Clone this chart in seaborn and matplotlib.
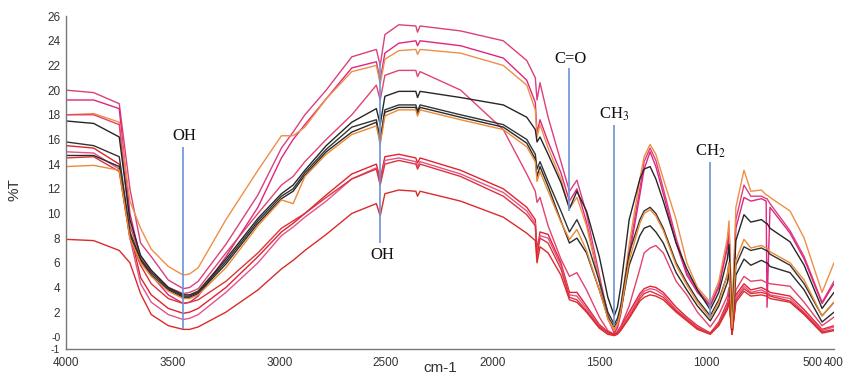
import pandas as pd
import seaborn as sns
import matplotlib.pyplot as plt

wn = [4000, 3870, 3750, 3700, 3650, 3600, 3520, 3450, 3420, 3380, 3250,
      3100, 2990, 2935, 2880, 2780, 2660, 2545, 2527, 2505, 2440,
      2360, 2352, 2340, 2150, 1950, 1840, 1800, 1792, 1778, 1740,
      1680, 1640, 1605, 1560, 1500, 1460, 1430, 1415, 1400, 1360, 1310, 1290,
      1262, 1235, 1200, 1140, 1090, 1040, 980, 940, 900, 892, 878,
      860, 822, 790, 740, 718, 714, 700, 606, 540, 456,
      400]

# %T of each sample
pink1 = [20.0, 19.8, 18.9, 12.0, 7.6, 6.5, 4.6, 3.9, 4.0, 4.5, 7.5,
         11.5, 15.3, 16.6, 18.0, 20.0, 22.7, 23.3, 22.0, 24.5, 25.3,
         25.2, 24.7, 25.2, 24.8, 24.0, 22.4, 21.0, 19.2, 20.6, 17.8,
         14.2, 11.8, 12.7, 10.0, 5.0, 1.8, 0.4, 0.9, 2.0, 7.0, 12.0, 14.2,
         15.3, 14.3, 12.0, 8.0, 5.2, 3.8, 2.6, 4.2, 7.5, 8.8, 1.2,
         9.5, 12.3, 11.4, 11.4, 11.2, 11.2, 10.8, 8.6, 6.5, 2.8,
         4.5]
pink2 = [19.2, 19.2, 18.5, 10.0, 6.3, 5.0, 3.4, 2.7, 2.8, 3.3, 6.5,
         10.5, 14.5, 16.0, 17.2, 19.3, 21.8, 22.3, 20.8, 23.0, 23.8,
         24.0, 23.6, 24.0, 23.6, 22.6, 20.8, 19.0, 16.5, 17.6, 15.8,
         13.3, 11.0, 12.0, 9.3, 4.5, 1.5, 0.3, 0.7, 1.8, 6.5, 11.5, 13.6,
         15.0, 13.8, 11.6, 7.6, 5.0, 3.6, 2.5, 4.0, 7.2, 8.5, 1.0,
         8.8, 11.3, 11.0, 11.2, 11.0, 2.4, 10.5, 8.4, 6.3, 2.7,
         4.3]
orange1 = [18.0, 18.1, 17.4, 11.0, 8.8, 7.1, 5.7, 5.0, 5.1, 5.6, 9.5,
           13.5, 16.3, 16.3, 17.0, 19.3, 21.5, 22.0, 20.5, 22.5, 23.2,
           23.3, 22.9, 23.3, 23.0, 22.0, 20.4, 18.4, 16.2, 17.2, 15.3,
           12.8, 10.4, 11.3, 9.0, 4.5, 1.4, 0.5, 1.0, 2.2, 7.5, 12.8, 14.6,
           15.6, 14.8, 12.8, 9.5, 6.0, 4.0, 2.8, 4.5, 8.0, 9.4, 1.5,
           10.5, 13.5, 11.8, 11.9, 11.5, 11.5, 11.3, 10.2, 8.0, 3.6,
           6.0]
pink3 = [18.0, 18.0, 17.2, 9.0, 6.5, 5.3, 4.0, 3.5, 3.6, 3.9, 6.8,
         10.0, 12.3, 13.0, 14.2, 16.0, 18.0, 20.4, 19.2, 21.2, 21.6,
         21.6, 21.1, 21.5, 20.0, 16.8, 13.2, 11.8, 10.9, 11.3, 9.0,
         6.3, 4.9, 5.2, 3.8, 1.6, 0.5, 0.2, 0.4, 0.8, 2.5, 5.5, 6.8,
         7.2, 7.4, 6.8, 4.5, 3.4, 2.0, 0.8, 1.8, 3.3, 4.0, 0.4,
         3.8, 4.9, 4.5, 4.6, 4.4, 4.4, 4.3, 4.1, 2.8, 0.9,
         1.6]
black1 = [17.5, 17.3, 16.2, 9.5, 6.6, 5.4, 4.0, 3.4, 3.4, 3.7, 6.3,
          9.6, 11.6, 12.3, 13.5, 15.5, 17.4, 18.5, 17.2, 19.5, 19.9,
          19.9, 19.4, 19.9, 19.4, 18.8, 17.8, 16.8, 15.8, 16.2, 14.8,
          12.5, 10.4, 11.8, 10.2, 6.5, 3.2, 1.7, 2.4, 4.0, 9.5, 12.8, 13.6,
          13.8, 12.8, 11.0, 7.6, 5.5, 3.8, 2.2, 3.6, 6.3, 7.5, 1.0,
          7.8, 9.9, 9.3, 9.5, 9.2, 9.2, 8.8, 7.7, 5.8, 2.3,
          3.6]
black2 = [15.8, 15.5, 14.6, 8.5, 6.3, 5.2, 3.9, 3.3, 3.3, 3.6, 6.1,
          9.4, 11.4, 12.0, 13.3, 15.2, 17.0, 17.6, 16.0, 18.4, 18.8,
          18.8, 18.3, 18.8, 18.0, 17.2, 16.0, 14.8, 13.6, 14.2, 12.6,
          10.2, 8.5, 9.5, 7.8, 4.5, 2.0, 1.0, 1.5, 2.5, 6.8, 9.5, 10.2,
          10.5, 10.0, 8.8, 6.0, 4.4, 3.0, 1.7, 3.0, 5.0, 6.0, 0.7,
          5.8, 7.3, 7.0, 7.2, 7.0, 7.0, 6.7, 5.8, 4.3, 1.7,
          2.8]
black3 = [14.7, 14.7, 13.8, 8.2, 6.2, 5.0, 3.8, 3.2, 3.2, 3.5, 5.9,
          9.2, 11.2, 11.8, 13.1, 15.0, 16.6, 17.4, 15.8, 18.2, 18.6,
          18.6, 18.1, 18.6, 17.8, 17.0, 15.7, 14.4, 13.0, 13.8, 12.2,
          9.4, 7.6, 8.0, 6.8, 3.8, 1.6, 0.8, 1.2, 2.0, 5.8, 8.2, 8.8,
          9.0, 8.5, 7.6, 5.2, 3.8, 2.5, 1.3, 2.5, 4.4, 5.2, 0.6,
          5.0, 6.3, 5.8, 6.2, 6.0, 6.0, 5.7, 5.2, 3.8, 1.2,
          2.0]
orange2 = [13.8, 13.9, 13.5, 8.0, 6.0, 4.9, 3.7, 3.1, 3.1, 3.4, 5.6,
           9.0, 11.1, 10.8, 13.0, 14.8, 16.4, 17.1, 15.6, 17.9, 18.4,
           18.4, 17.9, 18.4, 17.6, 16.8, 15.4, 14.2, 12.6, 13.4, 11.8,
           9.3, 7.9, 8.7, 7.0, 3.8, 1.5, 0.6, 1.1, 2.0, 6.2, 9.2, 10.0,
           10.3, 9.8, 8.6, 5.8, 4.2, 2.8, 1.5, 2.8, 5.0, 6.0, 0.7,
           6.2, 7.9, 7.2, 7.4, 7.2, 7.2, 6.9, 6.0, 4.6, 1.7,
           2.8]
red1 = [15.5, 15.3, 14.0, 8.5, 4.8, 3.4, 2.3, 1.9, 2.0, 2.3, 4.0,
        6.5, 8.5, 9.2, 10.0, 11.5, 13.2, 14.0, 12.8, 14.6, 14.8,
        14.5, 14.1, 14.5, 13.5, 12.0, 10.5, 9.5, 7.0, 8.5, 8.3,
        6.0, 3.6, 3.6, 2.5, 1.0, 0.4, 0.2, 0.4, 0.8, 2.0, 3.5, 3.9,
        4.1, 4.0, 3.6, 2.4, 1.6, 0.9, 0.3, 1.2, 2.8, 3.5, 0.2,
        3.4, 4.3, 3.8, 4.0, 3.8, 3.8, 3.6, 3.3, 2.2, 0.6,
        0.9]
pink4 = [15.0, 14.9, 13.6, 8.0, 4.3, 2.8, 1.8, 1.4, 1.5, 1.8, 3.6,
         6.0, 8.2, 8.9, 9.7, 11.0, 12.8, 13.7, 12.5, 14.3, 14.5,
         14.2, 13.8, 14.2, 13.2, 11.7, 10.2, 9.2, 6.8, 8.2, 8.0,
         5.8, 3.4, 3.3, 2.3, 0.9, 0.3, 0.1, 0.3, 0.7, 1.8, 3.3, 3.7,
         3.9, 3.8, 3.4, 2.2, 1.5, 0.8, 0.3, 1.1, 2.6, 3.2, 0.2,
         3.2, 4.1, 3.6, 3.8, 3.6, 3.6, 3.4, 3.1, 2.0, 0.5,
         0.8]
red2 = [14.5, 14.6, 13.4, 8.0, 5.8, 4.3, 3.1, 2.7, 2.8, 3.0, 4.5,
        6.8, 8.8, 9.4, 10.0, 11.3, 12.8, 13.6, 12.3, 14.0, 14.3,
        14.0, 13.6, 14.0, 13.0, 11.4, 9.9, 9.0, 6.5, 8.0, 7.6,
        5.5, 3.2, 3.0, 2.1, 0.8, 0.3, 0.2, 0.3, 0.6, 1.6, 3.1, 3.5,
        3.7, 3.5, 3.2, 2.1, 1.4, 0.7, 0.3, 1.0, 2.4, 3.0, 0.2,
        3.0, 3.9, 3.5, 3.6, 3.5, 3.5, 3.3, 2.9, 1.9, 0.4,
        0.6]
red3 = [7.9, 7.8, 7.0, 6.0, 3.5, 1.8, 0.9, 0.6, 0.6, 0.8, 2.0,
        3.8, 5.5, 6.2, 7.0, 8.3, 10.0, 10.8, 9.8, 11.6, 11.9,
        11.8, 11.4, 11.8, 11.0, 9.7, 8.4, 7.8, 6.0, 7.3, 6.8,
        5.0, 3.0, 2.8, 2.0, 0.7, 0.2, 0.1, 0.2, 0.5, 1.5, 2.9, 3.2,
        3.4, 3.3, 3.0, 2.0, 1.3, 0.6, 0.2, 0.9, 2.2, 2.8, 0.2,
        2.8, 3.7, 3.3, 3.4, 3.3, 3.3, 3.1, 2.8, 1.8, 0.3,
        0.5]

series = {'pink1': pink1, 'pink2': pink2, 'orange1': orange1, 'pink3': pink3,
          'red1': red1, 'pink4': pink4, 'red2': red2, 'red3': red3,
          'black1': black1, 'black2': black2, 'black3': black3, 'orange2': orange2}
colors = {'pink1': '#d9407c', 'pink2': '#e0257f', 'orange1': '#ee8f48', 'pink3': '#e2436f',
          'red1': '#e0242c', 'pink4': '#e5508f', 'red2': '#d9353a', 'red3': '#dc2a2a',
          'black1': '#262626', 'black2': '#333333', 'black3': '#2b2b2b', 'orange2': '#ec8a36'}

rows = []
for name, vals in series.items():
    for w, v in zip(wn, vals):
        rows.append((name, w, v))
df = pd.DataFrame(rows, columns=['sample', 'wn', 'T'])

sns.set_style('white')
plt.rcParams['font.family'] = ['Liberation Sans', 'DejaVu Sans']
plt.rcParams['mathtext.fontset'] = 'stix'

fig = plt.figure(figsize=(8.45, 3.75), dpi=100)
ax = fig.add_axes([0.078, 0.069, 0.909, 0.888])

sns.lineplot(data=df, x='wn', y='T', hue='sample', palette=colors,
             estimator=None, sort=False, legend=False, linewidth=1.0, ax=ax)

ax.set_xlim(4000, 400)
ax.set_ylim(-1, 26)
yt = [26, 24, 22, 20, 18, 16, 14, 12, 10, 8, 6, 4, 2, 0, -1]
ax.set_yticks(yt)
ax.set_yticklabels([str(t) for t in yt[:-2]] + ['-0', '-1'])
xt = [4000, 3500, 3000, 2500, 2000, 1500, 1000, 500, 400]
ax.set_xticks(xt)
ax.set_xticklabels([str(t) for t in xt])
ax.set_xlabel('')
ax.set_ylabel('')

for s in ['top', 'right']:
    ax.spines[s].set_visible(False)
for s in ['left', 'bottom']:
    ax.spines[s].set_color('#777777')
    ax.spines[s].set_linewidth(1.0)
ax.tick_params(axis='y', direction='out', length=3, color='#777777',
               labelsize=8.5, labelcolor='#333333', pad=1)
ax.tick_params(axis='x', direction='in', length=3, color='#777777',
               labelsize=8.5, labelcolor='#333333', pad=5.5)
# the -0 / -1 labels sit cramped at the bottom of the axis
for lab in ax.get_yticklabels()[-2:]:
    lab.set_fontsize(7.5)

fig.text(15 / 845, 1 - 190 / 375, '%T', rotation=90, ha='center', va='center',
         fontsize=11, color='#333333')
fig.text(440 / 845, 1 - 368 / 375, 'cm-1', ha='center', va='center',
         fontsize=11, color='#333333')

# band markers
blue = '#6b94d4'
serif = dict(family=['Liberation Serif', 'DejaVu Serif'], fontsize=12, color='#111111')
ax.vlines(3450, 0.6, 15.4, color=blue, lw=1.2)
ax.text(3443, 15.6, 'OH', ha='center', va='bottom', **serif)
ax.vlines(2527, 7.6, 22.3, color=blue, lw=1.2)
ax.text(2519, 7.3, 'OH', ha='center', va='top', **serif)
ax.vlines(1642, 10.2, 21.8, color=blue, lw=1.2)
ax.text(1633, 21.9, 'C=O', ha='center', va='bottom', **serif)
ax.vlines(1431, 0.9, 17.2, color=blue, lw=1.2)
ax.text(1431, 17.3, 'CH$_3$', ha='center', va='bottom', **serif)
ax.vlines(979, 1.5, 14.2, color=blue, lw=1.2)
ax.text(977, 14.3, 'CH$_2$', ha='center', va='bottom', **serif)

fig.savefig('out.png', dpi=100)
